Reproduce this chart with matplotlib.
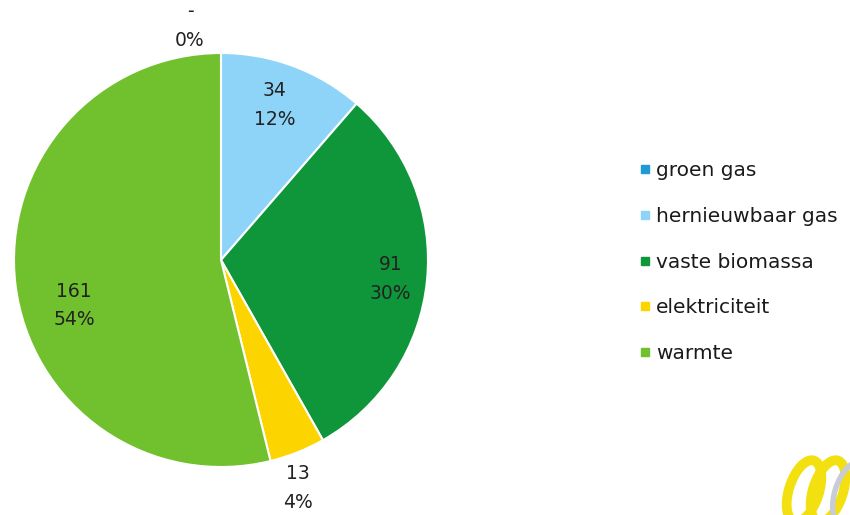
import matplotlib
matplotlib.use("Agg")
import matplotlib.pyplot as plt
from matplotlib.lines import Line2D
from matplotlib.patches import Ellipse

categories = ["groen gas", "hernieuwbaar gas", "vaste biomassa", "elektriciteit", "warmte"]
values = [0, 34, 91, 13, 161]
value_labels = ["-", "34", "91", "13", "161"]
pct_labels = ["0%", "12%", "30%", "4%", "54%"]
colors = ["#1E9AD6", "#8ED3F8", "#10963A", "#FCD500", "#70C12D"]

# label anchor points, in units of the pie radius
label_xy = [(-0.15, 1.13), (0.26, 0.75), (0.82, -0.09), (0.37, -1.10), (-0.71, -0.22)]

W, H = 850, 515
fig = plt.figure(figsize=(W / 100, H / 100), dpi=100)
plt.rcParams["font.family"] = ["DejaVu Sans"]

cx, cy, r = 221, 260, 207
ax = fig.add_axes([(cx - r) / W, (H - cy - r) / H, 2 * r / W, 2 * r / H])
ax.pie(values, colors=colors, startangle=90, counterclock=False, radius=1,
       wedgeprops=dict(edgecolor="white", linewidth=1.5))
ax.set_xlim(-1, 1)
ax.set_ylim(-1, 1)
ax.set_aspect("equal")
ax.axis("off")

for (x, y), v, p in zip(label_xy, value_labels, pct_labels):
    ax.text(x, y, f"{v}\n{p}", ha="center", va="center", fontsize=13.5,
            color="#222222", linespacing=1.65, clip_on=False)

handles = [Line2D([0], [0], marker="s", linestyle="none", markersize=6,
                  markerfacecolor=c, markeredgecolor=c) for c in colors]
leg = fig.legend(handles, categories, loc="upper left",
                 bbox_to_anchor=(630 / W, 1 - 151 / H), frameon=False,
                 fontsize=14.5, labelspacing=1.33, handlelength=0.5,
                 handletextpad=0.3, borderpad=0)
for t in leg.get_texts():
    t.set_color("#1a1a1a")

# corner logo rings
lax = fig.add_axes([770 / W, 0, 80 / W, 64 / H])
lax.set_xlim(0, 80)
lax.set_ylim(0, 64)
lax.axis("off")
for x0 in (34, 58):
    lax.add_patch(Ellipse((x0, 24), 30, 64, angle=-18, fill=False,
                          edgecolor="#F2E010", linewidth=7))
lax.add_patch(Ellipse((80, 22), 30, 64, angle=-18, fill=False,
                      edgecolor="#C8CCD4", linewidth=4))

fig.savefig("out.png", dpi=100)
